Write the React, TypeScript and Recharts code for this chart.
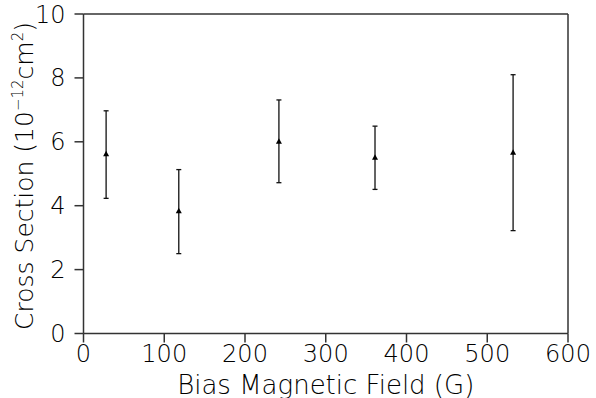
import { ScatterChart, Scatter, XAxis, YAxis, ErrorBar } from "recharts";

const fieldG = [28, 118, 242, 361, 532];
const crossSection = [5.61, 3.83, 6.0, 5.5, 5.66];
const lowBound = [4.23, 2.5, 4.72, 4.51, 3.22];
const highBound = [6.97, 5.13, 7.31, 6.49, 8.1];

const xTicks = [0, 100, 200, 300, 400, 500, 600];
const yTicks = [0, 2, 4, 6, 8, 10];

const data = fieldG.map((x, i) => ({
  x,
  y: crossSection[i],
  err: [crossSection[i] - lowBound[i], highBound[i] - crossSection[i]],
}));

const FONT = "'DejaVu Sans', sans-serif";
const INK = "#000";
const AXIS = "#333";

const noLabel = () => <g />;

// small filled triangle at the point the library placed
const Tri = (props: any) => {
  const { cx, cy } = props;
  return <path d={`M${cx},${cy - 3.5}L${cx + 3},${cy + 2}L${cx - 3},${cy + 2}Z`} fill="#000" />;
};

function YLabel() {
  return (
    <text
      x={33}
      y={176}
      transform="rotate(-90, 33, 176)"
      textAnchor="middle"
      fontFamily={FONT}
      fontWeight={200}
      fontSize={25}
      fill={INK}
    >
      Cross Section (10
      <tspan dy={-10} fontSize={15}>−12</tspan>
      <tspan dy={10}>cm</tspan>
      <tspan dy={-10} fontSize={15}>2</tspan>
      <tspan dy={10}>)</tspan>
    </text>
  );
}

export default function App() {
  const tickStyle = { fontSize: 24, fill: INK, fontFamily: FONT, fontWeight: 200 };
  return (
    <div style={{ position: "absolute", left: 0, top: 0, background: "#fff" }}>
      <ScatterChart width={596} height={398} margin={{ top: 4, right: 8, bottom: 4.5, left: 0 }}>
        <XAxis
          xAxisId="b"
          type="number"
          dataKey="x"
          domain={[0, 600]}
          ticks={xTicks}
          height={60}
          tickSize={9}
          tickMargin={2}
          stroke={AXIS}
          strokeWidth={1.5}
          tick={tickStyle}
          label={{
            value: "Bias Magnetic Field (G)",
            position: "insideBottom",
            offset: 0,
            style: { fontSize: 26, fill: INK, fontFamily: FONT, fontWeight: 200 },
          }}
        />
        <XAxis
          xAxisId="t"
          orientation="top"
          type="number"
          domain={[0, 600]}
          ticks={xTicks}
          height={10}
          tickSize={9}
          stroke={AXIS}
          strokeWidth={1.5}
          tick={noLabel}
        />
        <YAxis
          yAxisId="l"
          type="number"
          dataKey="y"
          domain={[0, 10]}
          ticks={yTicks}
          width={83.5}
          tickSize={9}
          tickMargin={9}
          stroke={AXIS}
          strokeWidth={1.5}
          tick={tickStyle}
          label={{ content: () => <YLabel /> }}
        />
        <YAxis
          yAxisId="r"
          orientation="right"
          type="number"
          domain={[0, 10]}
          ticks={yTicks}
          width={20}
          tickSize={9}
          stroke={AXIS}
          strokeWidth={1.5}
          tick={noLabel}
        />
        <Scatter
          data={data}
          xAxisId="b"
          yAxisId="l"
          fill="#000"
          shape={Tri}
          legendType="none"
          isAnimationActive={false}
        >
          <ErrorBar dataKey="err" direction="y" width={2.5} stroke="#111" strokeWidth={1.3} />
        </Scatter>
      </ScatterChart>
    </div>
  );
}
